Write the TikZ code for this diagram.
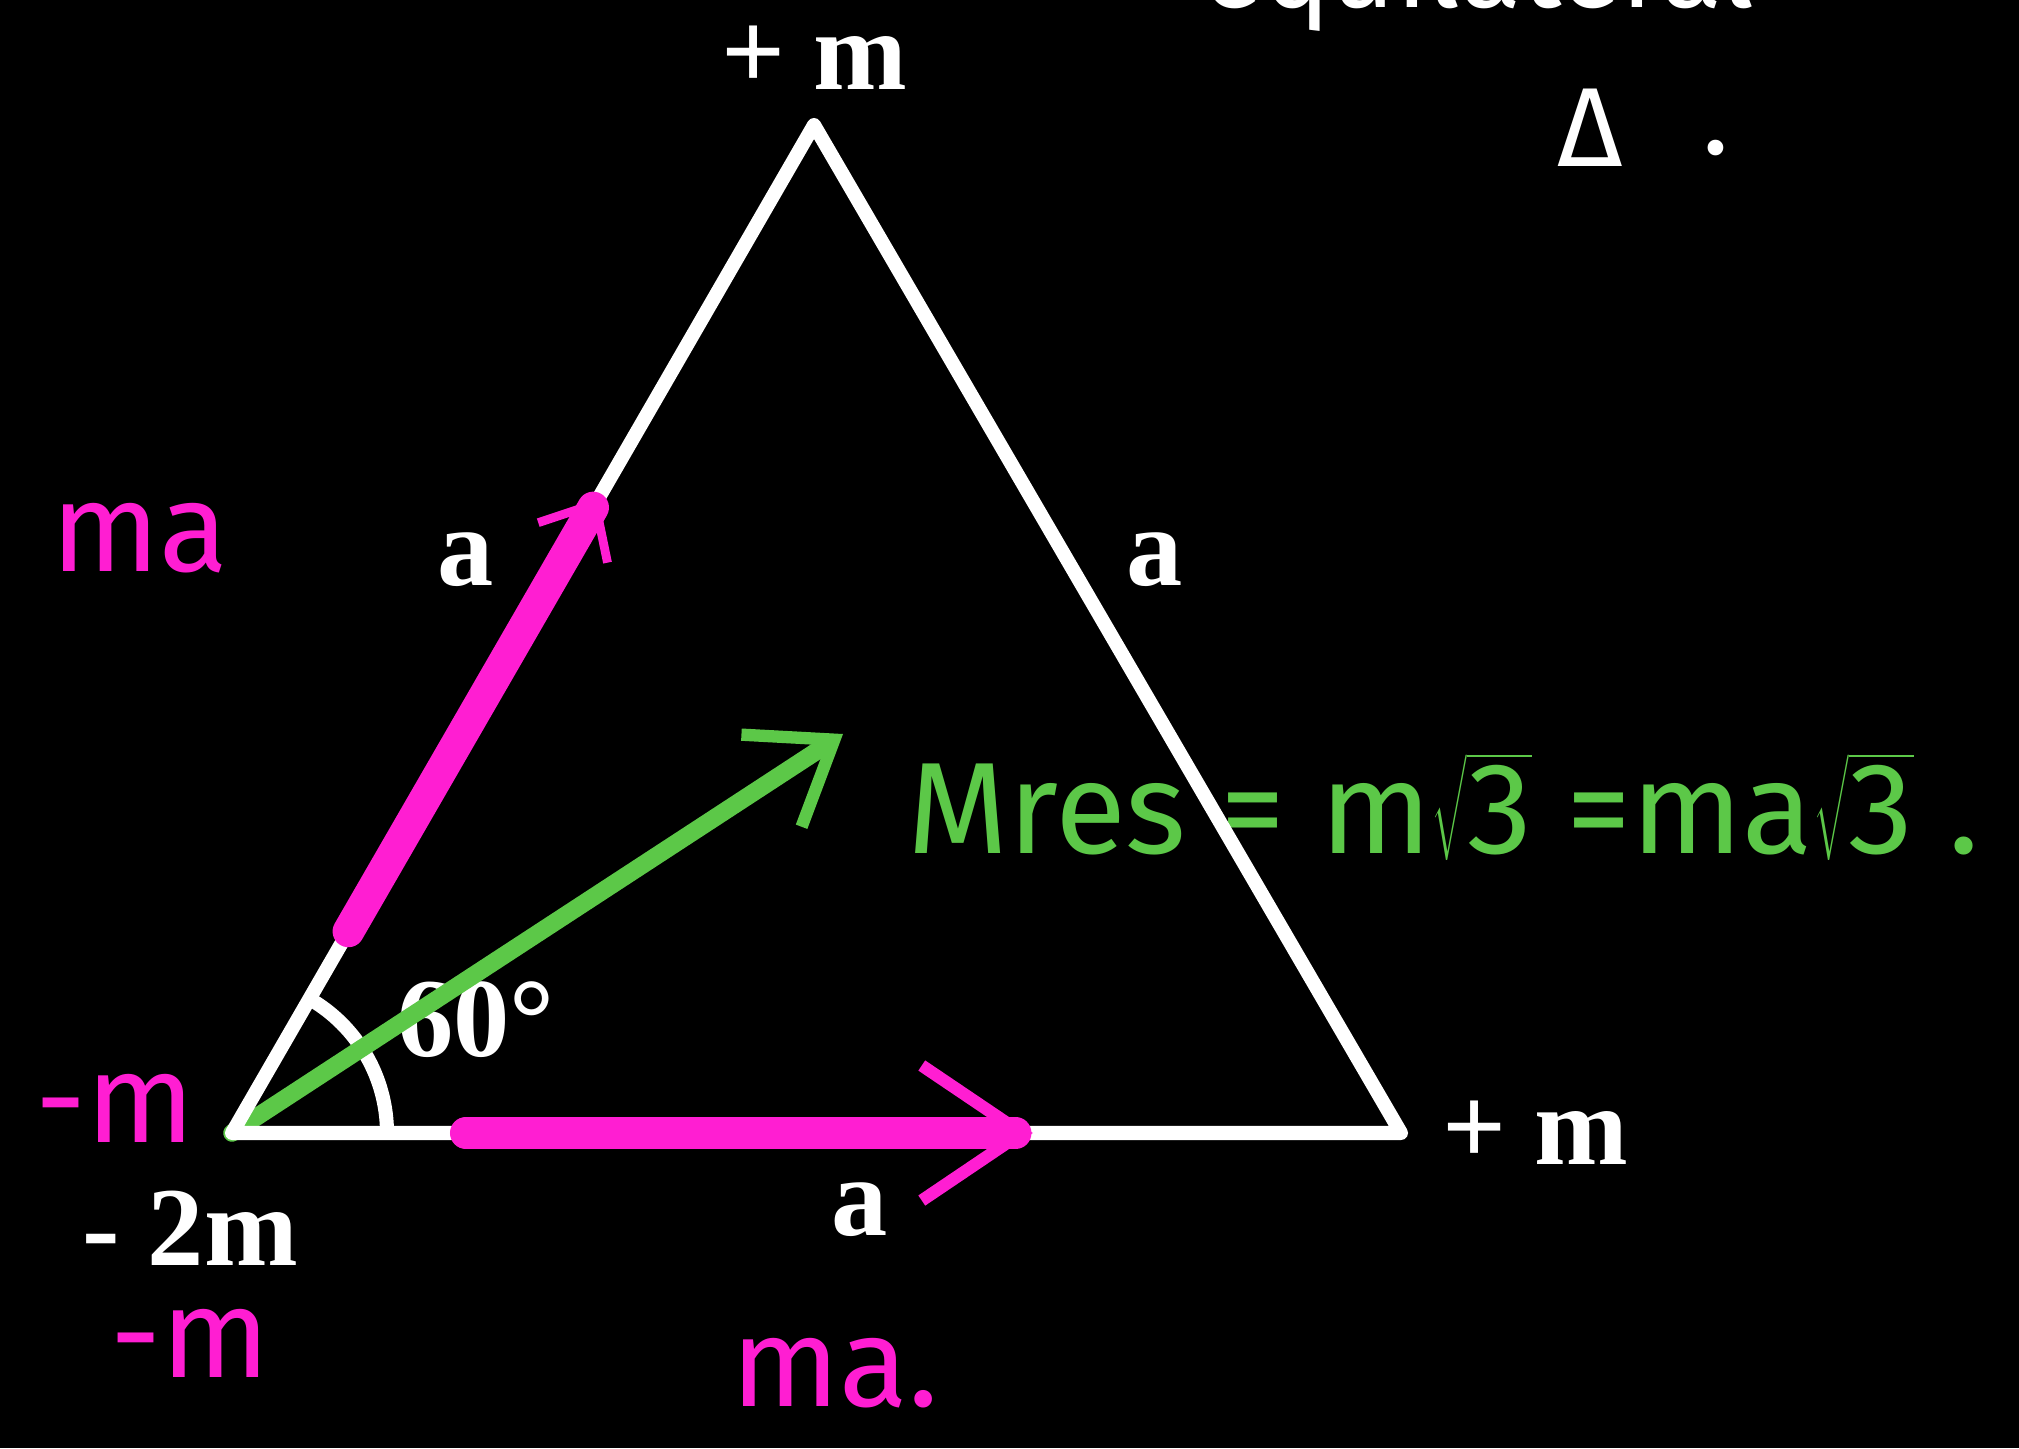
\documentclass[tikz,border=0pt]{standalone}
\usepackage{fontspec}
\setmainfont{Liberation Serif}
\newfontfamily\handfont{Fira Sans}
\usetikzlibrary{arrows.meta,calc}
\definecolor{inkpink}{RGB}{255,30,210}
\definecolor{inkgreen}{RGB}{92,200,72}
\tikzset{
  edge/.style={white,line width=4pt,line join=round},
  lbl/.style={white,font=\fontsize{32}{36}\selectfont\bfseries},
  pinkhand/.style={inkpink,font=\handfont\fontsize{36}{40}\selectfont},
  greenhand/.style={inkgreen,font=\handfont\fontsize{37}{42}\selectfont},
  whitehand/.style={white,font=\handfont\fontsize{32}{36}\selectfont},
  pinkvec/.style={inkpink,line width=9pt,line cap=round},
}
\begin{document}
\begin{tikzpicture}
  \fill[black] (0,0) rectangle (20.19,14.48);
  \clip (0,0) rectangle (20.19,14.48);
  % the triangle
  \coordinate (A) at (8.14,13.23);
  \coordinate (B) at (2.32,3.15);
  \coordinate (C) at (14.01,3.15);
  \draw[edge] ($(B)+(1.55,0)$) arc[start angle=0,end angle=60,radius=1.55];
  \node[lbl] (topm) at (8.14,13.9) {+ m};
  \node[lbl] (rightm) at (15.35,3.15) {+ m};
  \node[lbl] (leftm) at (1.9,2.2) {- 2m};
  \node[lbl] (sidel) at (4.66,8.88) {a};
  \node[lbl] (sider) at (11.55,8.88) {a};
  \node[lbl] (sideb) at (8.60,2.38) {a};
  \node[lbl] (angle) at (4.76,4.28) {60°};
  % resultant
  \coordinate (G) at (8.43,7.14);
  \draw[inkgreen,line width=5pt,line cap=round,
        -{Straight Barb[length=0.75cm,width=1.1cm,line width=3.5pt]}] (B) -- (G);
  \node[greenhand,anchor=base west] (mres) at (8.95,5.95)
    {Mres = m$\sqrt{\mbox{3}}$ =ma$\sqrt{\mbox{3}}$ .};
  \draw[edge] (A) -- (B) -- (C) -- cycle;
  % moments along the sides
  \coordinate (p1) at ($(B)!0.2!(A)$);
  \coordinate (p2) at ($(B)!0.63!(A)$);
  \coordinate (q1) at ($(B)!0.2!(C)$);
  \coordinate (q2) at ($(B)!0.685!(C)$);
  \draw[pinkvec,-{Straight Barb[length=0.45cm,width=0.8cm,line width=2.5pt]}] (p1) -- (p2);
  \draw[pinkvec,-{Straight Barb[length=1.0cm,width=1.35cm,line width=3.5pt]}] (q1) -- (q2);
  \node[pinkhand] (mal) at (1.4,9.1) {ma};
  \node[pinkhand] (mab) at (8.35,0.75) {ma.};
  \node[pinkhand] (negm1) at (1.15,3.4) {-m};
  \node[pinkhand] (negm2) at (1.9,1.05) {-m};
  % notes at the top
  \node[whitehand,anchor=base] (equi) at (14.78,14.4) {equilateral};
  \node[whitehand] (delta) at (15.90,13.2) {Δ};
  \node[whitehand] (deltadot) at (17.16,13.0) {.};
\end{tikzpicture}
\end{document}
